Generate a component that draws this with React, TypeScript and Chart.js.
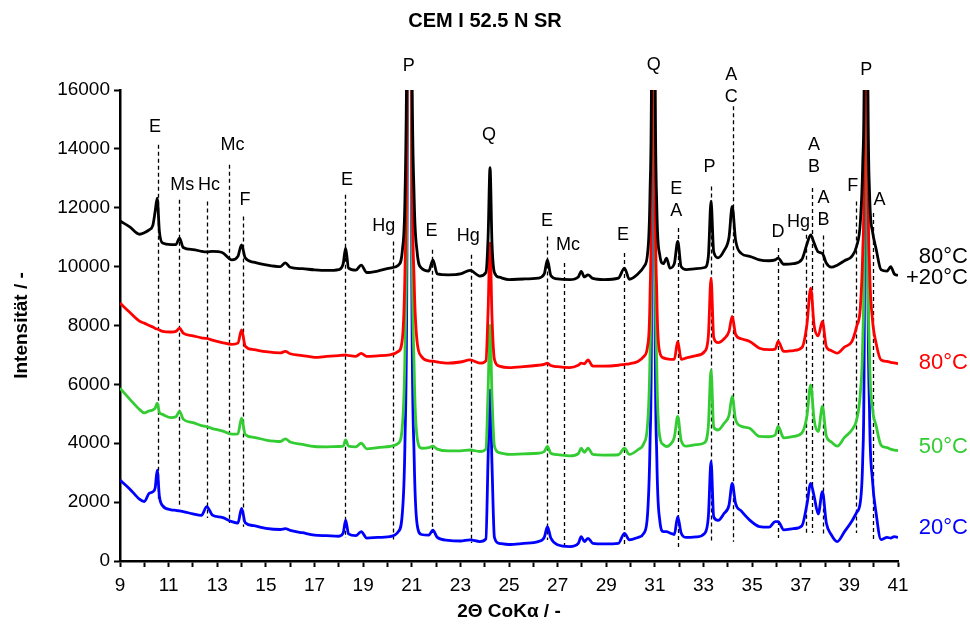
import React, { useEffect, useRef } from "react";
import { Chart, registerables } from "chart.js";

Chart.register(...registerables);

// 2θ positions (shared sampling grid)
const twoTheta = [
  9.0, 9.4, 9.8, 10.0, 10.2, 10.35, 10.45, 10.53, 10.62, 10.75,
  11.1, 11.3, 11.45, 11.6, 12.0, 12.35, 12.57, 12.8, 13.2, 13.6,
  13.85, 14.0, 14.15, 14.5, 15.0, 15.6, 15.8, 16.0, 16.5, 17.0,
  17.5, 18.0, 18.18, 18.28, 18.4, 18.7, 18.92, 19.15, 19.6, 20.1,
  20.45, 20.62, 20.72, 20.8, 20.9, 21.0, 21.1, 21.22, 21.4, 21.7,
  21.87, 22.05, 22.5, 23.0, 23.4, 23.8, 24.05, 24.14, 24.22, 24.3,
  24.4, 24.6, 25.0, 25.6, 26.2, 26.45, 26.58, 26.72, 27.0, 27.5,
  27.85, 27.97, 28.1, 28.25, 28.45, 28.9, 29.5, 29.75, 29.95, 30.3,
  30.55, 30.7, 30.8, 30.87, 30.93, 31.0, 31.08, 31.2, 31.35, 31.48,
  31.62, 31.8, 31.94, 32.08, 32.3, 32.7, 33.05, 33.2, 33.31, 33.42,
  33.6, 33.85, 34.05, 34.18, 34.32, 34.55, 34.9, 35.3, 35.7, 35.95,
  36.07, 36.3, 36.7, 37.05, 37.25, 37.41, 37.55, 37.72, 37.89, 38.05,
  38.25, 38.5, 38.8, 39.1, 39.3, 39.45, 39.55, 39.62, 39.68, 39.75,
  39.83, 39.95, 40.1, 40.3, 40.55, 40.7, 40.85, 41.0,
];

const int80plus20 = [
  11550, 11350, 11100, 11150, 11250, 11400, 11900, 12330, 11200, 10800,
  10750, 10750, 10970, 10650, 10580, 10520, 10500, 10520, 10480, 10230,
  10350, 10740, 10300, 10150, 10060, 10000, 10130, 9980, 9930, 9890,
  9870, 9900, 10100, 10630, 9950, 9880, 10050, 9800, 9850, 9950,
  10050, 10600, 12300, 18000, 40000, 18000, 12300, 10500, 9950, 9850,
  10230, 9750, 9720, 9750, 9870, 9680, 9800, 11000, 13360, 10800,
  9800, 9640, 9560, 9580, 9610, 9750, 10230, 9700, 9580, 9560,
  9650, 9840, 9650, 9720, 9600, 9560, 9610, 9950, 9570, 9750,
  10000, 10450, 12500, 18000, 40000, 18000, 12000, 10400, 10100, 10290,
  9950, 10100, 10860, 10000, 9900, 9930, 9970, 10350, 12220, 10500,
  10300, 10550, 11000, 12050, 10900, 10450, 10350, 10230, 10200, 10230,
  10290, 10080, 10100, 10250, 10750, 11080, 10800, 10500, 10450, 10120,
  9980, 10050, 10200, 10350, 10700, 11500, 13500, 18000, 40000, 18000,
  12500, 11200, 10600, 9900, 9850, 10000, 9750, 9700,
];

const int80 = [
  8760, 8450, 8150, 8080, 8000, 7950, 7900, 7880, 7850, 7800,
  7780, 7800, 7910, 7740, 7650, 7580, 7560, 7500, 7420, 7360,
  7400, 7850, 7300, 7180, 7110, 7070, 7120, 7040, 6980, 6920,
  6950, 6980, 6990, 7000, 6980, 6950, 7050, 6950, 6970, 7000,
  7120, 7600, 9800, 15000, 40000, 15000, 9500, 7450, 6950, 6800,
  6790, 6760, 6720, 6760, 6830, 6720, 6800, 8500, 10800, 8300,
  6850, 6620, 6570, 6600, 6650, 6680, 6720, 6640, 6600, 6570,
  6650, 6720, 6700, 6830, 6620, 6620, 6650, 6680, 6700, 6780,
  6950, 7300, 9000, 15000, 40000, 15000, 9000, 7100, 6900, 6870,
  6850, 6850, 7460, 6850, 6900, 6980, 7120, 7650, 9610, 7600,
  7420, 7550, 7800, 8310, 7700, 7550, 7460, 7230, 7180, 7200,
  7460, 7120, 7150, 7250, 8000, 9270, 8000, 7650, 8140, 7290,
  7150, 7060, 7270, 7450, 7970, 8600, 10500, 15000, 40000, 15000,
  10000, 8200, 7400, 6830, 6780, 6750, 6730, 6700,
];

const int50 = [
  5870, 5500, 5150, 5030, 5100, 5130, 5200, 5360, 5050, 4980,
  4870, 4900, 5080, 4820, 4700, 4600, 4560, 4500, 4420, 4310,
  4320, 4850, 4300, 4200, 4110, 4060, 4150, 4040, 3960, 3890,
  3880, 3890, 3900, 4110, 3900, 3880, 4000, 3810, 3850, 3890,
  4000, 4650, 7000, 13000, 40000, 13000, 6500, 4200, 3830, 3850,
  3900, 3800, 3740, 3740, 3770, 3720, 3800, 5800, 8000, 5600,
  3900, 3680, 3620, 3640, 3660, 3720, 3890, 3660, 3610, 3570,
  3650, 3830, 3690, 3830, 3620, 3600, 3610, 3830, 3620, 3780,
  4000, 4650, 7000, 13000, 40000, 13000, 6500, 4230, 3950, 3890,
  3950, 4200, 4910, 4100, 3900, 3950, 4020, 4600, 6490, 4550,
  4450, 4680, 4950, 5590, 4800, 4580, 4510, 4230, 4220, 4280,
  4570, 4180, 4230, 4350, 4900, 5980, 4800, 4400, 5250, 4250,
  4050, 3900, 4200, 4450, 4800, 5700, 7500, 13000, 40000, 13000,
  7000, 5200, 4600, 3940, 3850, 3800, 3770, 3750,
];

const int20 = [
  2750, 2450, 2100, 2020, 2300, 2350, 2500, 3090, 2200, 1880,
  1740, 1720, 1700, 1680, 1600, 1550, 1850, 1560, 1480, 1340,
  1290, 1790, 1300, 1200, 1110, 1070, 1100, 1040, 960, 880,
  860, 840, 950, 1390, 920, 860, 1000, 780, 800, 830,
  1000, 1700, 4000, 10000, 40000, 10000, 3500, 1250, 900, 880,
  1050, 800, 700, 680, 720, 660, 750, 3500, 5800, 3300,
  800, 600, 560, 600, 660, 800, 1170, 780, 550, 490,
  600, 830, 660, 770, 600, 580, 600, 940, 720, 800,
  950, 1600, 4000, 10000, 40000, 10000, 3500, 1390, 1000, 1000,
  950, 900, 1510, 950, 800, 820, 940, 1510, 3380, 1500,
  1380, 1620, 1900, 2640, 1950, 1700, 1390, 1170, 1150, 1340,
  1340, 1060, 1100, 1200, 1900, 2640, 2200, 1600, 2360, 1300,
  900, 660, 1000, 1350, 1650, 2000, 3500, 9000, 40000, 12000,
  5000, 2750, 1620, 730, 800, 780, 830, 800,
];

const seriesData = [int80plus20, int80, int50, int20];
const seriesLabels = [["80°C", "+20°C"], ["80°C"], ["50°C"], ["20°C"]];
const seriesLabelY = [10346, 6732, 3886, 1122];
const seriesColors = ["#000000", "#FF0000", "#33CC33", "#0000FF"];

// dashed reference lines (phase positions)
const refX = [10.55, 11.42, 12.58, 13.48, 14.04, 18.25, 20.21, 21.85, 23.43, 26.58, 27.26, 29.71, 31.95, 33.29, 34.22, 36.05, 37.22, 37.48, 37.93, 39.29, 39.99];
const refTop = [14144, 12274, 12216, 13464, 11706, 12444, 10856, 10574, 10404, 11026, 10122, 10462, 11312, 12726, 15446, 10632, 11084, 12672, 11060, 12216, 11822];
const refBottom = [2100, 1900, 1460, 1290, 1160, 780, 714, 950, 612, 714, 486, 544, 442, 656, 656, 782, 884, 952, 884, 952, 656];

// phase labels
const phaseText = [["E"], ["Ms"], ["Hc"], ["Mc"], ["F"], ["E"], ["Hg"], ["E"], ["Hg"], ["E"], ["Mc"], ["E"], ["E", "A"], ["P"], ["A", "C"], ["D"], ["Hg"], ["A", "B"], ["A", "B"], ["F"], ["A"], ["P"], ["Q"], ["Q"], ["P"]];
const phaseX = [10.44, 11.56, 12.66, 13.63, 14.14, 18.34, 19.85, 21.81, 23.32, 26.56, 27.43, 29.69, 31.88, 33.25, 34.14, 36.06, 36.91, 37.54, 37.94, 39.14, 40.24, 20.88, 24.18, 30.95, 39.69];
const phaseY = [14756, 12784, 12784, 14144, 12274, 12954, 11366, 11196, 11026, 11536, 10744, 11060, 11876, 13386, 15766, 11162, 11516, 13386, 11594, 12726, 12274, 16806, 14484, 16864, 16694];

const xLabelTicks = [9, 11, 13, 15, 17, 19, 21, 23, 25, 27, 29, 31, 33, 35, 37, 39, 41];
const titleText = "CEM I 52.5 N SR";
const FONT = "'Liberation Sans', Arial, sans-serif";

const overlayPlugin = {
  id: "overlay",
  beforeDatasetsDraw(chart: any) {
    const { ctx, scales } = chart;
    const x = scales.x, y = scales.y;
    ctx.save();
    ctx.strokeStyle = "#000";
    ctx.lineWidth = 1.3;
    ctx.setLineDash([4, 3]);
    refX.forEach((v, i) => {
      const px = Math.round(x.getPixelForValue(v)) + 0.5;
      ctx.beginPath();
      ctx.moveTo(px, y.getPixelForValue(refTop[i]));
      ctx.lineTo(px, y.getPixelForValue(refBottom[i]));
      ctx.stroke();
    });
    ctx.restore();
  },
  afterDraw(chart: any) {
    const { ctx, scales } = chart;
    const x = scales.x, y = scales.y;
    ctx.save();
    ctx.fillStyle = "#000";
    ctx.textAlign = "center";
    ctx.textBaseline = "middle";
    ctx.font = `18px ${FONT}`;
    phaseText.forEach((lines, i) => {
      const px = x.getPixelForValue(phaseX[i]);
      const py = y.getPixelForValue(phaseY[i]);
      const n = lines.length;
      lines.forEach((t, j) => {
        ctx.fillText(t, px, py - (n - 1 - j) * 22);
      });
    });
    // series labels
    ctx.textAlign = "right";
    ctx.font = `22px ${FONT}`;
    seriesLabels.forEach((lines, i) => {
      ctx.fillStyle = seriesColors[i];
      const py = y.getPixelForValue(seriesLabelY[i]);
      lines.forEach((t, j) => ctx.fillText(t, chart.width - 2, py + j * 21));
    });
    // title
    ctx.fillStyle = "#000";
    ctx.textAlign = "center";
    ctx.font = `bold 20px ${FONT}`;
    ctx.fillText(titleText, chart.width / 2, 21);
    ctx.restore();
  },
};

export default function App() {
  const ref = useRef<HTMLCanvasElement | null>(null);
  useEffect(() => {
    if (!ref.current) return;
    const datasets = seriesData.map((arr, i) => ({
      label: seriesLabels[i].join(" "),
      data: twoTheta.map((t, k) => ({ x: t, y: arr[k] })),
      borderColor: seriesColors[i],
      backgroundColor: seriesColors[i],
      borderWidth: 2.8,
      pointRadius: 0,
      cubicInterpolationMode: "monotone",
      fill: false,
    }));
    const tickFont = { family: FONT, size: 19 };
    const chart = new Chart(ref.current, {
      type: "line",
      data: { datasets },
      plugins: [overlayPlugin],
      options: {
        animation: false,
        responsive: false,
        devicePixelRatio: 1,
        layout: { padding: { left: 0, right: 72, top: 90, bottom: 0 } },
        plugins: { legend: { display: false }, tooltip: { enabled: false }, title: { display: false } },
        scales: {
          x: {
            type: "linear",
            min: 9,
            max: 41,
            afterFit: (s: any) => { s.height = 69; },
            ticks: {
              stepSize: 1,
              autoSkip: false,
              maxRotation: 0,
              padding: 7,
              color: "#000",
              font: tickFont,
              callback: (v: any) => (xLabelTicks.includes(Number(v)) ? String(v) : ""),
            },
            grid: { drawOnChartArea: false, drawTicks: true, tickLength: 6, tickColor: "#000", tickWidth: 2 },
            border: { display: true, color: "#000", width: 2.5 },
            title: { display: true, text: "2Θ CoKα / -", color: "#000", font: { family: FONT, size: 19, weight: "bold" }, padding: { top: 0, bottom: 7 } },
          },
          y: {
            type: "linear",
            min: 0,
            max: 16000,
            afterFit: (s: any) => { s.width = 120; },
            ticks: { stepSize: 2000, color: "#000", font: tickFont, padding: 4, callback: (v: any) => String(v) },
            grid: { drawOnChartArea: false, drawTicks: true, tickLength: 6, tickColor: "#000", tickWidth: 2 },
            border: { display: true, color: "#000", width: 2.5 },
            title: { display: true, text: "Intensität / -", color: "#000", font: { family: FONT, size: 19, weight: "bold" }, padding: { top: 10, bottom: 0 } },
          },
        },
      } as any,
    });
    return () => chart.destroy();
  }, []);
  return (
    <div style={{ position: "absolute", left: 0, top: 0, width: 970, height: 630, background: "#fff" }}>
      <canvas ref={ref} width={970} height={630} style={{ width: 970, height: 630, display: "block" }} />
    </div>
  );
}
